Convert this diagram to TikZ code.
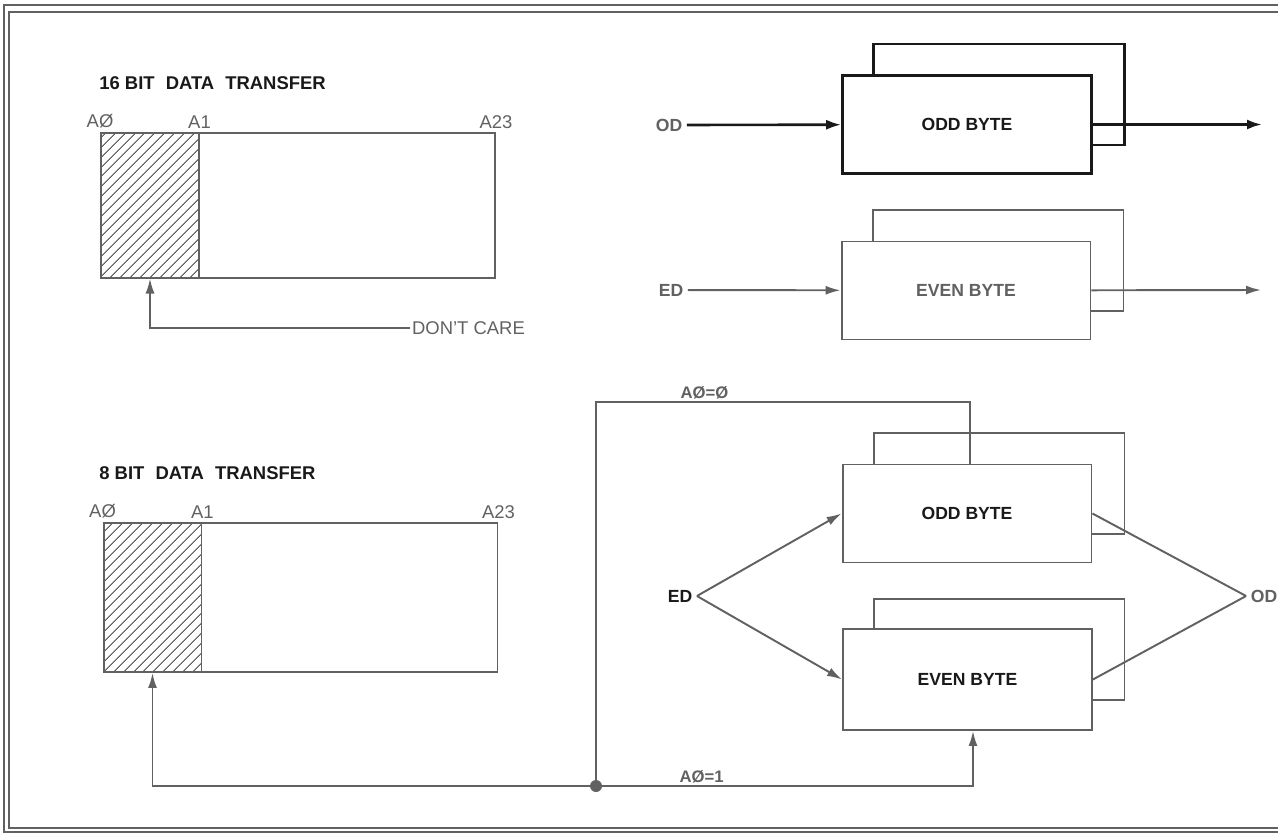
\documentclass[tikz,border=0pt]{standalone}
\usepackage{fontspec}
\setmainfont{Liberation Sans}
\usetikzlibrary{arrows.meta,positioning,patterns.meta,calc}
\colorlet{inkdark}{black!90}
\colorlet{inkgray}{black!62}
\tikzset{
  framerule/.style={draw=inkgray,line width=1pt},
  titletext/.style={anchor=west,inner sep=0pt,font=\bfseries\fontsize{10.5}{12}\selectfont,text=inkdark},
  addrlabel/.style={inner sep=1pt,font=\fontsize{10.5}{12}\selectfont,text=inkgray},
  sidelabel/.style={inner sep=2.5pt,font=\bfseries\fontsize{10}{12}\selectfont},
  notetext/.style={inner sep=1pt,font=\fontsize{10.5}{12}\selectfont,text=inkgray},
  wordbox/.style={draw=inkgray,line width=1.1pt,minimum width=7.88cm,minimum height=2.9cm,inner sep=0pt},
  hatchbox/.style={draw=inkgray,line width=1.1pt,minimum width=1.96cm,minimum height=2.9cm,inner sep=0pt,
    pattern={Lines[angle=45,distance=4pt,line width=0.6pt]},pattern color=inkgray},
  bytebox/.style={draw=inkgray,fill=white,line width=1.1pt,minimum width=4.98cm,minimum height=1.96cm,
    inner sep=0pt,font=\bfseries\fontsize{10}{12}\selectfont},
  backbox/.style={draw=inkgray,fill=white,line width=1.1pt,minimum width=5.02cm,minimum height=2.02cm,inner sep=0pt},
  wire/.style={draw=inkgray,line width=1.1pt},
  grayarrow/.style={wire,-{Latex[length=3mm,width=1.8mm]}},
  darkarrow/.style={draw=inkdark,line width=1.5pt,-{Latex[length=3mm,width=2mm]}},
  wirelabel/.style={inner sep=1pt,font=\bfseries\fontsize{9.5}{11}\selectfont,text=inkgray}
}
\newcommand{\wsp}{\hspace{0.6em}}
\begin{document}
\begin{tikzpicture}[x=0.02cm,y=-0.02cm]
  \useasboundingbox (0,0) rectangle (1278,835);
  \draw[framerule] (1278,5) -- (4,5) -- (4,832) -- (1278,832);
  \draw[framerule] (1278,12) -- (9,12) -- (9,828) -- (1278,828);

  \node[titletext] (title16) at (99,83) {16 BIT\wsp DATA\wsp TRANSFER};
  \node[wordbox] (word16) at (298,205.5) {};
  \node[hatchbox] (hatch16) at (150,205.5) {};
  \node[addrlabel,above=1pt of word16.north west] (a0top) {AØ};
  \node[addrlabel,above=1pt of hatch16.north east] (a1top) {A1};
  \node[addrlabel,above=1pt of word16.north east] (a23top) {A23};
  \node[notetext,anchor=west] (dontcare) at (410,328) {DON'T CARE};
  \draw[grayarrow] (dontcare.west) -| (hatch16.south);

  \node[backbox,draw=inkdark,line width=1.5pt] (oddAback) at (999,94.5) {};
  \node[bytebox,draw=inkdark,line width=1.5pt,text=inkdark] (oddA) at (967,124.5) {ODD BYTE};
  \node[sidelabel,text=inkgray] (odA) at (669,125) {OD};
  \coordinate (oddAout) at (1262,124.5);
  \draw[darkarrow] (odA) -- (oddA);
  \draw[darkarrow] (oddA) -- (oddAout);

  \node[backbox] (evenAback) at (998,260.5) {};
  \node[bytebox,text=inkgray] (evenA) at (966,290.5) {EVEN BYTE};
  \node[sidelabel,text=inkgray] (edA) at (671,290) {ED};
  \coordinate (evenAout) at (1261,290);
  \draw[grayarrow] (edA) -- (evenA);
  \draw[grayarrow] (evenA) -- (evenAout);

  \node[titletext] (title8) at (99,473) {8 BIT\wsp DATA\wsp TRANSFER};
  \node[wordbox,minimum height=2.98cm] (word8) at (300.5,597.5) {};
  \node[hatchbox,minimum height=2.98cm] (hatch8) at (152.5,597.5) {};
  \node[addrlabel,above=1pt of word8.north west] (a0bot) {AØ};
  \node[addrlabel,above=1pt of hatch8.north east] (a1bot) {A1};
  \node[addrlabel,above=1pt of word8.north east] (a23bot) {A23};

  \node[backbox] (oddBback) at (999,483.5) {};
  \node[bytebox,text=inkdark] (oddB) at (967,513.5) {ODD BYTE};
  \node[backbox] (evenBback) at (999,649.5) {};
  \node[bytebox,minimum height=2.02cm,text=inkdark] (evenB) at (967.5,679.5) {EVEN BYTE};
  \node[sidelabel,text=inkdark] (edB) at (680,596) {ED};
  \node[sidelabel,text=inkgray] (odB) at (1264,596) {OD};
  \draw[grayarrow] (edB.east) -- (oddB.west);
  \draw[grayarrow] (edB.east) -- (evenB.west);
  \draw[wire] (odB.west) -- (oddB.east);
  \draw[wire] (odB.west) -- (evenB.east);

  \coordinate (junction) at (596,786);
  \coordinate (a0zero) at (970,402);
  \coordinate (a0one) at (973,786);
  \draw[wire] (junction) |- node[wirelabel,pos=0.645,above] {AØ=Ø} (a0zero) -- (a0zero |- oddB.north);
  \draw[grayarrow] (junction) -- node[wirelabel,pos=0.28,above] {AØ=1} (a0one) -- (a0one |- evenB.south);
  \draw[grayarrow] (junction) -| (hatch8.south);
  \fill[inkgray] (junction) circle[radius=0.12cm];
\end{tikzpicture}
\end{document}
